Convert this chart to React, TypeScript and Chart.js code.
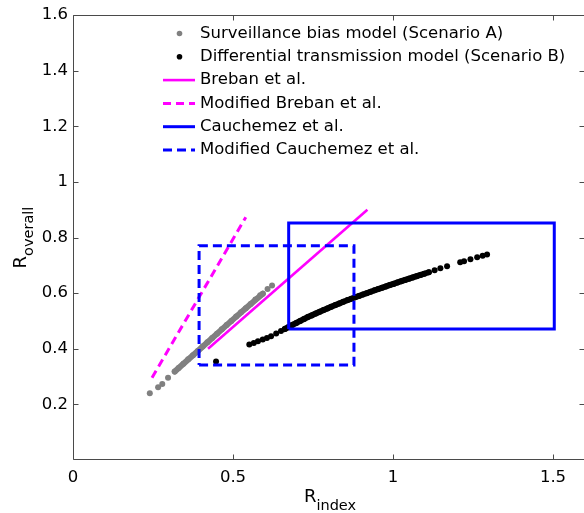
import React, { useEffect, useRef } from 'react';
import { Chart, registerables } from 'chart.js';

Chart.register(...registerables);

const FONT = '"DejaVu Sans", sans-serif';

// Scenario A: surveillance bias model (R_index, R_overall)
const scenarioAX = [0.240, 0.266, 0.279, 0.297, 0.318, 0.330, 0.345, 0.360, 0.375, 0.390, 0.405, 0.420, 0.435, 0.450, 0.465, 0.480, 0.495, 0.510, 0.525, 0.540, 0.555, 0.570, 0.585, 0.593, 0.608, 0.622];
const scenarioAY = [0.240, 0.262, 0.273, 0.296, 0.318, 0.331, 0.346, 0.362, 0.377, 0.392, 0.408, 0.423, 0.439, 0.454, 0.470, 0.485, 0.500, 0.516, 0.531, 0.546, 0.561, 0.577, 0.592, 0.598, 0.615, 0.627];
// dense (continuous) stretch of Scenario A
const scenarioABandX = [0.318, 0.390, 0.480, 0.540, 0.593];
const scenarioABandY = [0.318, 0.392, 0.485, 0.546, 0.598];

// Scenario B: differential transmission model
const scenarioBX = [0.447, 0.551, 0.565, 0.578, 0.593, 0.606, 0.619, 0.635, 0.650, 0.662, 0.674, 0.686, 0.698, 0.710, 0.722, 0.734, 0.746, 0.759, 0.771, 0.783, 0.795, 0.807, 0.820, 0.832, 0.845, 0.858, 0.870, 0.882, 0.894, 0.906, 0.918, 0.930, 0.942, 0.954, 0.966, 0.978, 0.990, 1.002, 1.014, 1.026, 1.038, 1.050, 1.062, 1.074, 1.086, 1.098, 1.112, 1.130, 1.148, 1.169, 1.210, 1.222, 1.242, 1.263, 1.280, 1.294];
const scenarioBY = [0.354, 0.415, 0.421, 0.427, 0.433, 0.439, 0.445, 0.455, 0.464, 0.471, 0.478, 0.486, 0.493, 0.500, 0.507, 0.514, 0.520, 0.527, 0.533, 0.539, 0.545, 0.551, 0.557, 0.563, 0.569, 0.575, 0.580, 0.585, 0.590, 0.595, 0.600, 0.605, 0.610, 0.615, 0.619, 0.624, 0.629, 0.633, 0.638, 0.643, 0.647, 0.652, 0.656, 0.661, 0.665, 0.670, 0.675, 0.682, 0.689, 0.697, 0.711, 0.715, 0.722, 0.729, 0.734, 0.739];
// dense (continuous) stretch of Scenario B
const scenarioBBandX = [0.662, 0.698, 0.734, 0.771, 0.807, 0.845, 0.882, 0.930, 0.978, 1.026, 1.074, 1.112];
const scenarioBBandY = [0.471, 0.493, 0.514, 0.533, 0.551, 0.569, 0.585, 0.605, 0.624, 0.643, 0.661, 0.675];

const brebanX = [0.422, 0.92];
const brebanY = [0.40, 0.90];
const modBrebanX = [0.247, 0.54];
const modBrebanY = [0.296, 0.873];
const cauchemezX = [0.674, 1.504, 1.504, 0.674, 0.674];
const cauchemezY = [0.471, 0.471, 0.852, 0.852, 0.471];
const modCauchemezX = [0.394, 0.878, 0.878, 0.394, 0.394];
const modCauchemezY = [0.342, 0.342, 0.770, 0.770, 0.342];

const xTicks = [0, 0.5, 1, 1.5];
const yTicks = [0.2, 0.4, 0.6, 0.8, 1, 1.2, 1.4, 1.6];

const legendLabels = [
  'Surveillance bias model (Scenario A)',
  'Differential transmission model (Scenario B)',
  'Breban et al.',
  'Modified Breban et al.',
  'Cauchemez et al.',
  'Modified Cauchemez et al.',
];

const GRAY = '#808080';
const BLACK = '#000000';
const MAGENTA = '#ff00ff';
const BLUE = '#0000ff';

const pts = (xs: number[], ys: number[]) => xs.map((x, i) => ({ x, y: ys[i] }));

const framePlugin = {
  id: 'frame',
  beforeDatasetsDraw(chart: any) {
    const { ctx, chartArea: a, scales } = chart;
    ctx.save();
    ctx.strokeStyle = '#4a4a4a';
    ctx.lineWidth = 1;
    const l = Math.round(a.left) + 0.5;
    const r = Math.round(a.right) - 0.5;
    const t = Math.round(a.top) + 0.5;
    const b = Math.round(a.bottom) - 0.5;
    ctx.beginPath();
    ctx.moveTo(l, t);
    ctx.lineTo(r, t);
    ctx.lineTo(r, b);
    ctx.lineTo(l, b);
    ctx.closePath();
    ctx.stroke();
    const tl = 5;
    ctx.beginPath();
    xTicks.forEach((v) => {
      const px = Math.round(scales.x.getPixelForValue(v)) + 0.5;
      ctx.moveTo(px, b);
      ctx.lineTo(px, b - tl);
      ctx.moveTo(px, t);
      ctx.lineTo(px, t + tl);
    });
    yTicks.forEach((v) => {
      const py = Math.round(scales.y.getPixelForValue(v)) + 0.5;
      ctx.moveTo(l, py);
      ctx.lineTo(l + tl, py);
      ctx.moveTo(r, py);
      ctx.lineTo(r - tl, py);
    });
    ctx.stroke();
    ctx.restore();
  },
  afterDraw(chart: any) {
    const { ctx, chartArea: a } = chart;
    ctx.save();
    // Legend
    const styles = chart.data.datasets;
    ctx.font = `16.5px ${FONT}`;
    ctx.textBaseline = 'middle';
    ctx.textAlign = 'left';
    legendLabels.forEach((label, i) => {
      const y = 33.5 + i * 23.3;
      const ds = styles[i];
      if (!ds.showLine) {
        ctx.fillStyle = ds.backgroundColor;
        ctx.beginPath();
        ctx.arc(179.5, y, 2.8, 0, Math.PI * 2);
        ctx.fill();
      } else {
        ctx.strokeStyle = ds.borderColor;
        ctx.lineWidth = ds.borderWidth;
        ctx.setLineDash(ds.borderDash || []);
        ctx.beginPath();
        ctx.moveTo(163, y);
        ctx.lineTo(195, y);
        ctx.stroke();
        ctx.setLineDash([]);
      }
      ctx.fillStyle = '#000';
      ctx.fillText(label, 200, y);
    });

    // X axis title: R_index
    ctx.textBaseline = 'alphabetic';
    const cx = (a.left + Math.min(a.right, 583)) / 2 + 2;
    ctx.font = `18px ${FONT}`;
    const wR = ctx.measureText('R').width;
    ctx.font = `14.5px ${FONT}`;
    const wSx = ctx.measureText('index').width;
    const sx = cx - (wR + wSx) / 2;
    ctx.font = `18px ${FONT}`;
    ctx.fillText('R', sx, 502);
    ctx.font = `14.5px ${FONT}`;
    ctx.fillText('index', sx + wR, 509.5);

    // Y axis title: R_overall
    const cy = (a.top + a.bottom) / 2;
    ctx.translate(25.5, cy);
    ctx.rotate(-Math.PI / 2);
    ctx.font = `14.5px ${FONT}`;
    const wSy = ctx.measureText('overall').width;
    const sy = -(wR + wSy) / 2;
    ctx.font = `18px ${FONT}`;
    ctx.fillText('R', sy, 0);
    ctx.font = `14.5px ${FONT}`;
    ctx.fillText('overall', sy + wR, 7.5);
    ctx.restore();
  },
};

export default function App() {
  const ref = useRef<HTMLCanvasElement | null>(null);

  useEffect(() => {
    if (!ref.current) return;
    const tickFont = { family: FONT, size: 16.5 };
    const chart = new Chart(ref.current, {
      type: 'scatter',
      data: {
        datasets: [
          {
            label: legendLabels[0],
            data: pts(scenarioAX, scenarioAY),
            showLine: false,
            pointRadius: 3,
            pointHoverRadius: 3,
            borderWidth: 0,
            backgroundColor: GRAY,
            borderColor: GRAY,
            order: 0,
          },
          {
            label: legendLabels[1],
            data: pts(scenarioBX, scenarioBY),
            showLine: false,
            pointRadius: 3,
            pointHoverRadius: 3,
            borderWidth: 0,
            backgroundColor: BLACK,
            borderColor: BLACK,
            order: -1,
          },
          {
            label: legendLabels[2],
            data: pts(brebanX, brebanY),
            showLine: true,
            pointRadius: 0,
            borderWidth: 2.6,
            borderColor: MAGENTA,
            backgroundColor: MAGENTA,
            order: -2,
          },
          {
            label: legendLabels[3],
            data: pts(modBrebanX, modBrebanY),
            showLine: true,
            pointRadius: 0,
            borderWidth: 3,
            borderDash: [8, 5],
            borderColor: MAGENTA,
            backgroundColor: MAGENTA,
            order: -3,
          },
          {
            label: legendLabels[4],
            data: pts(cauchemezX, cauchemezY),
            showLine: true,
            pointRadius: 0,
            borderWidth: 3,
            borderColor: BLUE,
            backgroundColor: BLUE,
            order: -4,
          },
          {
            label: legendLabels[5],
            data: pts(modCauchemezX, modCauchemezY),
            showLine: true,
            pointRadius: 0,
            borderWidth: 3,
            borderDash: [9, 5],
            borderColor: BLUE,
            backgroundColor: BLUE,
            order: -5,
          },
          {
            label: 'Scenario A dense',
            data: pts(scenarioABandX, scenarioABandY),
            showLine: true,
            pointRadius: 0,
            borderWidth: 6,
            borderCapStyle: 'round',
            borderColor: GRAY,
            backgroundColor: GRAY,
            order: 0.5,
          },
          {
            label: 'Scenario B dense',
            data: pts(scenarioBBandX, scenarioBBandY),
            showLine: true,
            pointRadius: 0,
            borderWidth: 6,
            borderCapStyle: 'round',
            borderColor: BLACK,
            backgroundColor: BLACK,
            order: -0.5,
          },
        ],
      },
      options: {
        animation: false,
        responsive: false,
        maintainAspectRatio: false,
        layout: { padding: { top: 15, right: 1.5, left: 0, bottom: 0 } },
        plugins: {
          legend: { display: false },
          tooltip: { enabled: false },
        },
        elements: { line: { tension: 0, fill: false } },
        scales: {
          x: {
            type: 'linear',
            min: 0,
            max: 1.6,
            grid: { display: false, drawTicks: false },
            border: { display: false },
            ticks: {
              font: tickFont,
              color: '#000',
              padding: 8,
              maxRotation: 0,
              callback: (v: any) => String(v),
            },
            afterBuildTicks: (scale: any) => {
              scale.ticks = xTicks.map((v) => ({ value: v }));
            },
            afterFit: (scale: any) => {
              scale.height = 53;
            },
          },
          y: {
            type: 'linear',
            min: 0,
            max: 1.6,
            grid: { display: false, drawTicks: false },
            border: { display: false },
            ticks: {
              font: tickFont,
              color: '#000',
              padding: 5,
              callback: (v: any) => String(v),
            },
            afterBuildTicks: (scale: any) => {
              scale.ticks = yTicks.map((v) => ({ value: v }));
            },
            afterFit: (scale: any) => {
              scale.width = 73;
            },
          },
        },
      } as any,
      plugins: [framePlugin],
    });
    return () => chart.destroy();
  }, []);

  return (
    <div style={{ position: 'fixed', left: 0, top: 0, width: 584, height: 513, overflow: 'hidden', background: '#fff' }}>
      <canvas ref={ref} width={588} height={513} style={{ display: 'block', width: 588, height: 513 }} />
    </div>
  );
}
